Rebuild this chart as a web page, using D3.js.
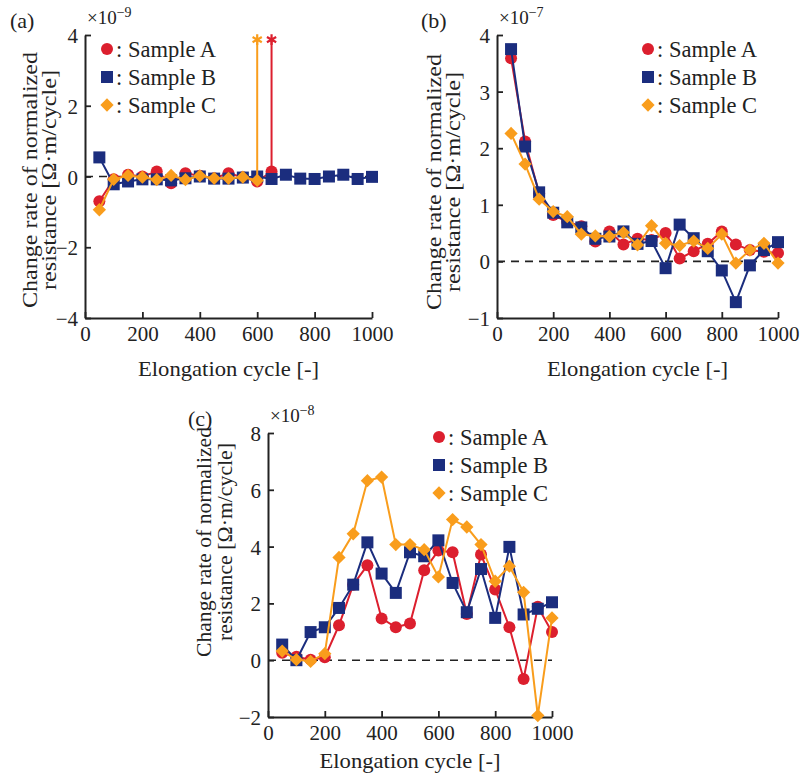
<!DOCTYPE html>
<html><head><meta charset="utf-8">
<script src="https://cdn.jsdelivr.net/npm/d3@7"></script>
<style>body{margin:0;background:#fff}svg{display:block}text{font-family:"Liberation Serif","DejaVu Serif",serif;fill:#222}</style>
</head><body>
<script>
const cycles = [50,100,150,200,250,300,350,400,450,500,550,600,650,700,750,800,850,900,950,1000];
const xTicks = [0,200,400,600,800,1000];

// Panel (a) values (×10^-9)
const aA = [-0.70,-0.08,0.05,0.00,0.14,-0.19,0.09,0.02,-0.05,0.09,-0.02,-0.14,0.14];
const aB = [0.54,-0.22,-0.14,-0.08,-0.08,-0.11,-0.05,0.00,-0.06,-0.06,-0.03,0.00,-0.07,0.05,-0.06,-0.07,0.00,0.05,-0.07,-0.01];
const aC = [-0.94,-0.08,0.03,-0.02,-0.09,0.03,-0.09,0.02,-0.05,-0.05,-0.02,-0.11];
const aBreakX = [650, null, 600];   // cycle at which sample broke (A, B, C)
const aBreakTop = 3.87;
const aTicks = [-4,-2,0,2,4];

// Panel (b) values (×10^-7)
const bA = [3.59,2.12,1.20,0.82,0.70,0.62,0.35,0.53,0.30,0.40,0.38,0.50,0.05,0.18,0.31,0.53,0.30,0.20,0.17,0.15];
const bB = [3.75,2.03,1.22,0.86,0.69,0.60,0.40,0.44,0.53,0.31,0.36,-0.12,0.65,0.41,0.18,-0.16,-0.72,-0.07,0.20,0.34];
const bC = [2.26,1.72,1.10,0.88,0.79,0.48,0.45,0.44,0.51,0.29,0.63,0.32,0.28,0.36,0.23,0.48,-0.03,0.20,0.32,-0.03];
const bTicks = [-1,0,1,2,3,4];

// Panel (c) values (×10^-8)
const cA = [0.26,0.12,0.02,0.10,1.23,2.66,3.34,1.47,1.16,1.29,3.17,3.86,3.80,1.63,3.72,2.49,1.16,-0.66,1.88,0.99];
const cB = [0.55,0.00,0.99,1.16,1.84,2.66,4.15,3.05,2.37,3.80,3.66,4.22,2.72,1.69,3.21,1.49,3.99,1.61,1.81,2.04];
const cC = [0.32,0.02,-0.04,0.23,3.62,4.45,6.32,6.45,4.07,4.07,3.89,2.93,4.95,4.69,4.07,2.78,3.31,2.39,-1.95,1.49];
const cTicks = [-2,0,2,4,6,8];

const seriesNames = ["Sample A","Sample B","Sample C"];
const colors = ["#dc1f2e","#1b2d7e","#f99d1c"];
const shapes = ["circle","square","diamond"];

const FONT = '"Liberation Serif","DejaVu Serif",serif';
const W = 800, H = 774;
const svg = d3.select("body").append("svg").attr("width",W).attr("height",H);

function marker(g, shape, color){
  if(shape==="circle") return g.append("circle").attr("r",6).attr("fill",color);
  if(shape==="square") return g.append("rect").attr("x",-6).attr("y",-6).attr("width",12).attr("height",12).attr("fill",color);
  return g.append("path").attr("d",d3.symbol(d3.symbolSquare,88)()).attr("transform","rotate(45)").attr("fill",color);
}

function panel(cfg){
  const x = d3.scaleLinear().domain([0,1000]).range(cfg.xr);
  const y = d3.scaleLinear().domain(cfg.yd).range(cfg.yr);
  const g = svg.append("g");
  const ax = g.append("g").attr("transform",`translate(0,${cfg.yr[0]})`)
    .call(d3.axisBottom(x).tickValues(xTicks).tickFormat(d3.format("d")).tickSizeInner(-6).tickSizeOuter(0).tickPadding(8));
  const ay = g.append("g").attr("transform",`translate(${cfg.xr[0]},0)`)
    .call(d3.axisLeft(y).tickValues(cfg.yt).tickFormat(d3.format("d")).tickSizeInner(-6).tickSizeOuter(0).tickPadding(7));
  [ax,ay].forEach(a=>{
    a.attr("font-family",null).attr("font-size",null);
    a.select(".domain").attr("stroke","#222").attr("stroke-width",2);
    a.selectAll(".tick line").attr("stroke","#222").attr("stroke-width",1.8);
    a.selectAll("text").style("font-family",FONT).style("font-size","21px").attr("fill","#222");
  });
  ay.selectAll(".tick text").attr("dy","0.36em");
  g.append("line").attr("x1",x(0)).attr("x2",x(1000)).attr("y1",y(0)).attr("y2",y(0))
    .attr("stroke","#222").attr("stroke-width",1.6).attr("stroke-dasharray","8,6");
  cfg.data.forEach((vals,i)=>{
    const pts = vals.map((v,k)=>[cycles[k],v]);
    const line = d3.line().x(d=>x(d[0])).y(d=>y(d[1]));
    g.append("path").attr("d",line(pts)).attr("fill","none").attr("stroke",colors[i]).attr("stroke-width",2);
    if(cfg.breaks && cfg.breaks[i]!=null){
      const bx = cfg.breaks[i];
      const last = pts[pts.length-1];
      g.append("line").attr("x1",x(bx)).attr("x2",x(bx)).attr("y1",y(last[1])).attr("y2",y(cfg.breakTop))
        .attr("stroke",colors[i]).attr("stroke-width",2);
      g.append("path").attr("d",d3.symbol(d3.symbolAsterisk,80)()).attr("transform",`translate(${x(bx)},${y(cfg.breakTop)})`)
        .attr("fill","none").attr("stroke",colors[i]).attr("stroke-width",2.2);
    }
    pts.forEach(p=>{
      const mg = g.append("g").attr("transform",`translate(${x(p[0])},${y(p[1])})`);
      marker(mg, shapes[i], colors[i]);
    });
  });
  const et = g.append("text").attr("x",cfg.xr[0]+2).attr("y",cfg.yr[1]-11).style("font-size","19px");
  et.append("tspan").text("×10");
  et.append("tspan").attr("dy",-7).style("font-size","14px").text("−"+cfg.exp);
  g.append("text").attr("x",cfg.lab[0]).attr("y",cfg.lab[1]).style("font-size","22px").text(cfg.label);
  g.append("text").attr("x",(cfg.xr[0]+cfg.xr[1])/2).attr("y",Math.min(cfg.yr[0]+58,768)).attr("text-anchor","middle")
    .attr("textLength",181).attr("lengthAdjust","spacingAndGlyphs")
    .style("font-size","22px").text("Elongation cycle [-]");
  const yt = g.append("text").attr("transform",`translate(${cfg.yl[0]},${cfg.yl[1]}) rotate(-90)`)
    .attr("text-anchor","middle").style("font-size","22px");
  yt.append("tspan").attr("x",0).attr("y",0).attr("textLength",cfg.ylen[0]).attr("lengthAdjust","spacingAndGlyphs").text("Change rate of normalized");
  yt.append("tspan").attr("x",0).attr("y",cfg.ygap).attr("textLength",cfg.ylen[1]).attr("lengthAdjust","spacingAndGlyphs").text("resistance [Ω·m/cycle]");
  seriesNames.forEach((n,i)=>{
    const lg = g.append("g").attr("transform",`translate(${cfg.leg[0]},${cfg.leg[1]+i*28})`);
    marker(lg, shapes[i], colors[i]);
    lg.append("text").attr("x",9).attr("y",0).attr("dy","0.35em").style("font-size","22.5px").text(": "+n);
  });
}

panel({xr:[85,372], yd:[-4,4], yr:[318,35], yt:aTicks, data:[aA,aB,aC], breaks:aBreakX, breakTop:aBreakTop,
       exp:"9", label:"(a)", lab:[10,28], yl:[37,180], ygap:19, ylen:[256,220], leg:[107,49]});
panel({xr:[497,778], yd:[-1,4], yr:[318,35], yt:bTicks, data:[bA,bB,bC],
       exp:"7", label:"(b)", lab:[421,28], yl:[441,182], ygap:19, ylen:[256,220], leg:[648,49]});
panel({xr:[268,552], yd:[-2,8], yr:[717,433], yt:cTicks, data:[cA,cB,cC],
       exp:"8", label:"(c)", lab:[188,426], yl:[211,542], ygap:21, ylen:[230,198], leg:[439,437]});
</script>
</body></html>
